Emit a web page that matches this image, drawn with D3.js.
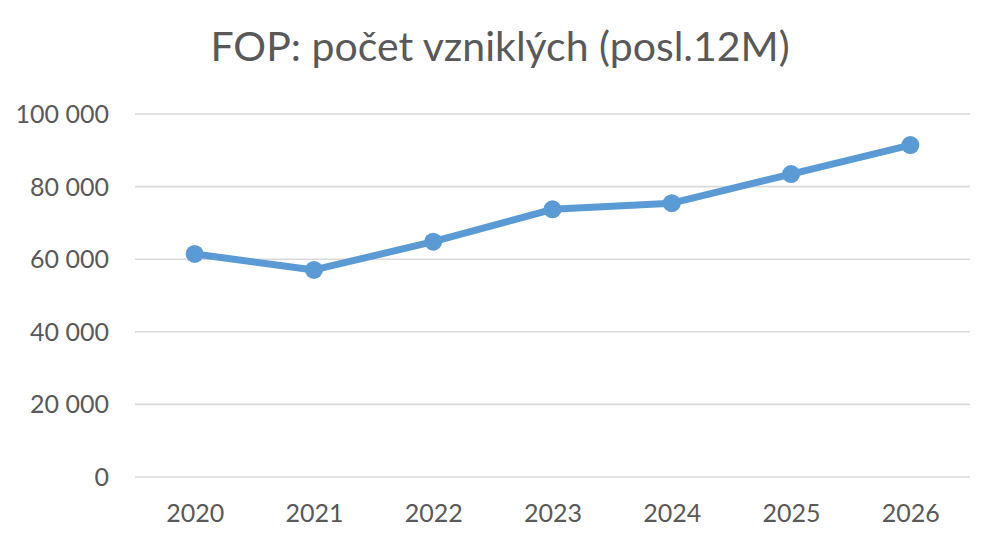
<!DOCTYPE html>
<html>
<head>
<meta charset="utf-8">
<script src="https://cdn.jsdelivr.net/npm/d3@7"></script>
<style>
  body { margin: 0; background: #fff; }
  svg text { font-family: Lato, "Open Sans", sans-serif; fill: #595959; }
</style>
</head>
<body>
<div id="canvas"></div>
<script>
// data
var years = ['2020', '2021', '2022', '2023', '2024', '2025', '2026'];
var counts = [61300, 56900, 64700, 73600, 75300, 83300, 91300];
var yTicks = [0, 20000, 40000, 60000, 80000, 100000];
var title = 'FOP: počet vzniklých (posl.12M)';

var W = 1000, H = 545;
var m = {t: 113.5, r: 30, b: 68.5, l: 135};
var w = W - m.l - m.r,
    h = H - m.t - m.b;

var svg = d3.select('#canvas')
    .append('svg')
    .attr('width', W)
    .attr('height', H);

svg.append('text')
    .attr('x', 500)
    .attr('y', 61)
    .attr('text-anchor', 'middle')
    .style('font-size', '41px')
    .text(title);

var plot = svg.append('g')
    .attr('transform', 'translate(' + m.l + ',' + m.t + ')');

var x = d3.scalePoint().domain(years).range([0, w]).padding(0.5);
var y = d3.scaleLinear().domain([0, 100000]).range([h, 0]);

var fmt = function(d) { return d3.format(',')(d).replace(/,/g, '\u00a0'); };

// gridlines + y labels
var yAxis = plot.append('g')
    .call(d3.axisLeft(y).tickValues(yTicks).tickSize(-w).tickPadding(26).tickFormat(fmt));
yAxis.select('.domain').remove();
yAxis.selectAll('.tick line').attr('stroke', '#d9d9d9').attr('stroke-width', 1.6);
yAxis.selectAll('.tick text').style('font-size', '25px').attr('fill', '#595959').attr('dy', '0.36em');

// x labels
var xAxis = plot.append('g')
    .attr('transform', 'translate(0,' + h + ')')
    .call(d3.axisBottom(x).tickSize(0).tickPadding(28));
xAxis.select('.domain').remove();
xAxis.selectAll('.tick text').style('font-size', '25px').attr('fill', '#595959');

var pts = years.map(function(d, i) { return {year: d, v: counts[i]}; });

var line = d3.line()
    .x(function(d) { return x(d.year); })
    .y(function(d) { return y(d.v); });

plot.append('path')
    .datum(pts)
    .attr('d', line)
    .attr('fill', 'none')
    .attr('stroke', '#5b9bd5')
    .attr('stroke-width', 7)
    .attr('stroke-linejoin', 'round')
    .attr('stroke-linecap', 'round');

plot.selectAll('.dot')
    .data(pts)
    .enter()
    .append('circle').attr('class', 'dot')
    .attr('cx', function(d) { return x(d.year); })
    .attr('cy', function(d) { return y(d.v); })
    .attr('r', 9)
    .attr('fill', '#5b9bd5');
</script>
</body>
</html>
